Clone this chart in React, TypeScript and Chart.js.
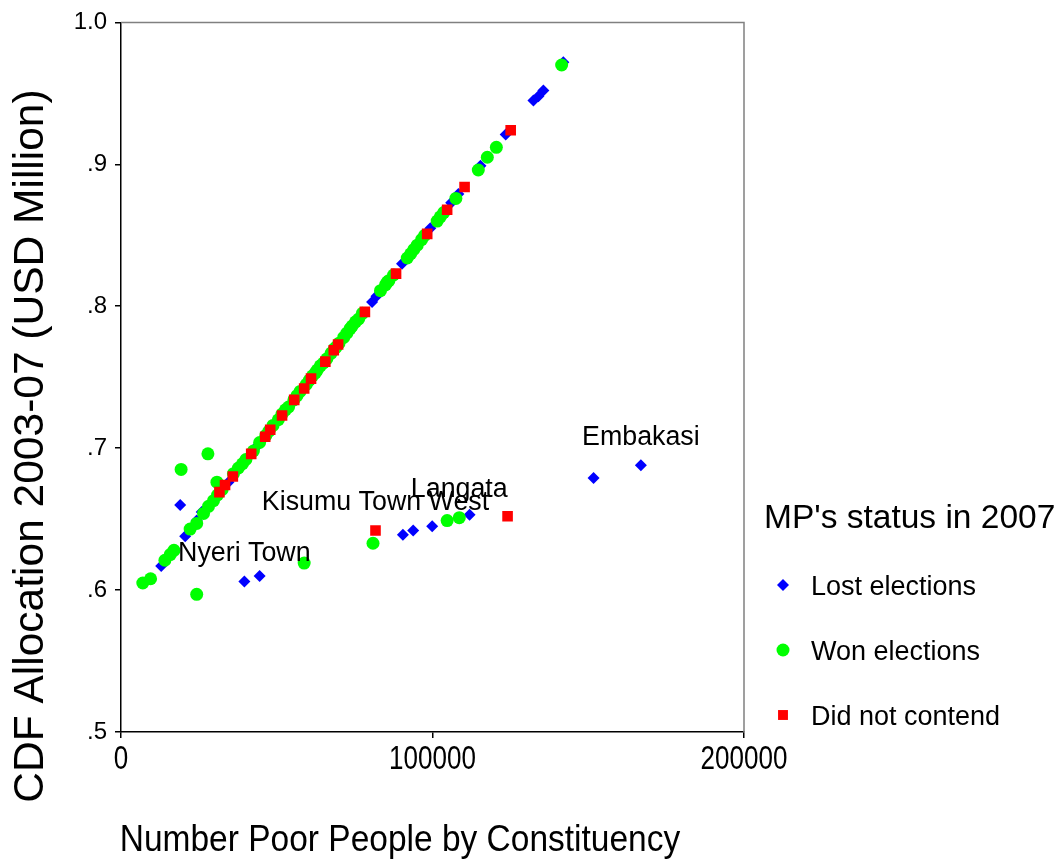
import { useEffect, useRef } from 'react';
import { Chart, registerables } from 'chart.js';

Chart.register(...registerables);

const FONT = "'Liberation Sans', Arial, sans-serif";

const xTickValues = [0, 100000, 200000];
const xTickLabels = ['0', '100000', '200000'];
const yTickValues = [0.5, 0.6, 0.7, 0.8, 0.9, 1.0];
const yTickLabels = ['.5', '.6', '.7', '.8', '.9', '1.0'];

const xTitle = 'Number Poor People by Constituency';
const yTitle = 'CDF Allocation 2003-07 (USD Million)';
const legendTitle = "MP's status in 2007";

const seriesNames = ['Lost elections', 'Won elections', 'Did not contend'];
const seriesColors = ['#0000ff', '#00ff00', '#ff0000'];
const seriesShapes = ['rectRot', 'circle', 'rect'];

// Lost elections
const lostX = [12900, 20600, 24300, 25900, 30000, 34500, 38500, 43000, 50000, 54500, 57000, 63500, 67000, 73000, 80600, 82000, 86500, 90200, 92500, 96500, 99300, 106000, 108300, 115400, 123500, 132400, 134000, 135600, 142000, 19000, 39600, 44500, 90500, 93800, 99900, 111900, 151700, 166900];
const lostY = [0.617, 0.638, 0.649, 0.655, 0.664, 0.676, 0.687, 0.700, 0.719, 0.731, 0.738, 0.756, 0.766, 0.782, 0.803, 0.807, 0.819, 0.830, 0.836, 0.847, 0.855, 0.873, 0.879, 0.899, 0.921, 0.945, 0.948, 0.952, 0.972, 0.660, 0.606, 0.610, 0.639, 0.642, 0.645, 0.653, 0.679, 0.688];

// Won elections
const wonX = [7000, 9500, 14100, 15800, 22200, 24300, 26500, 28100, 29700, 31000, 36100, 37700, 40100, 44500, 46500, 48800, 51700, 53800, 55500, 57500, 59500, 60500, 62400, 64000, 66100, 68500, 70000, 71500, 72500, 74200, 75300, 76300, 77500, 83300, 84900, 86000, 87500, 91900, 93000, 94000, 95100, 96500, 101500, 103600, 107500, 114700, 117600, 120500, 141460, 19300, 27900, 30800, 24300, 58800, 80900, 104700, 108600, 17000, 32500, 39000, 42500, 47500, 50500, 52800, 56500, 61500, 63000, 65000, 67500, 69000, 73500, 85500, 97500, 102500];
const wonY = [0.605, 0.608, 0.621, 0.625, 0.643, 0.647, 0.654, 0.659, 0.663, 0.667, 0.682, 0.686, 0.692, 0.704, 0.709, 0.716, 0.724, 0.729, 0.734, 0.740, 0.745, 0.748, 0.753, 0.758, 0.763, 0.770, 0.774, 0.778, 0.781, 0.786, 0.789, 0.791, 0.795, 0.811, 0.815, 0.818, 0.822, 0.834, 0.837, 0.840, 0.843, 0.847, 0.860, 0.866, 0.876, 0.896, 0.905, 0.912, 0.970, 0.685, 0.696, 0.676, 0.597, 0.619, 0.633, 0.649, 0.651, 0.628, 0.671, 0.689, 0.698, 0.712, 0.720, 0.727, 0.737, 0.751, 0.755, 0.760, 0.767, 0.771, 0.784, 0.817, 0.850, 0.863];

// Did not contend
const noContestX = [31600, 33400, 35900, 41800, 46300, 47900, 51700, 55600, 58800, 61000, 65600, 68300, 69700, 78300, 88300, 98300, 104700, 110300, 125100, 81700, 124100];
const noContestY = [0.669, 0.674, 0.680, 0.696, 0.708, 0.713, 0.723, 0.734, 0.742, 0.749, 0.761, 0.769, 0.773, 0.796, 0.823, 0.851, 0.868, 0.884, 0.924, 0.642, 0.652];

// Labelled constituencies: series index and point index
const pointLabelNames = ['Nyeri Town', 'Kisumu Town West', 'Langata', 'Embakasi'];
const pointLabelSeries = [0, 2, 1, 0];
const pointLabelIndex = [30, 19, 56, 37];

const seriesX = [lostX, wonX, noContestX];
const seriesY = [lostY, wonY, noContestY];

function drawText(ctx: CanvasRenderingContext2D, s: string, x: number, y: number, size: number, align: CanvasTextAlign, rot = 0, sy = 1) {
  ctx.save();
  ctx.translate(x, y);
  if (rot) ctx.rotate(rot);
  if (sy !== 1) ctx.scale(1, sy);
  ctx.font = `${size}px ${FONT}`;
  ctx.fillStyle = '#000';
  ctx.textAlign = align;
  ctx.textBaseline = 'middle';
  ctx.fillText(s, 0, 0);
  ctx.restore();
}

function drawMarker(ctx: CanvasRenderingContext2D, shape: string, color: string, x: number, y: number, r: number) {
  ctx.save();
  ctx.fillStyle = color;
  ctx.beginPath();
  if (shape === 'circle') {
    ctx.arc(x, y, r, 0, Math.PI * 2);
  } else if (shape === 'rectRot') {
    ctx.moveTo(x - r, y);
    ctx.lineTo(x, y - r);
    ctx.lineTo(x + r, y);
    ctx.lineTo(x, y + r);
    ctx.closePath();
  } else {
    const s = r * Math.SQRT1_2;
    ctx.rect(x - s, y - s, 2 * s, 2 * s);
  }
  ctx.fill();
  ctx.restore();
}

const decorPlugin = {
  id: 'decor',
  afterDraw(chart: any) {
    const ctx: CanvasRenderingContext2D = chart.ctx;
    const a = chart.chartArea;
    // top and right frame
    ctx.save();
    ctx.strokeStyle = '#808080';
    ctx.lineWidth = 1.5;
    ctx.beginPath();
    ctx.moveTo(a.left, a.top);
    ctx.lineTo(a.right, a.top);
    ctx.lineTo(a.right, a.bottom);
    ctx.stroke();
    ctx.restore();

    // x tick labels (tall, condensed look of the original)
    const xs = chart.scales.x;
    xTickValues.forEach((v, i) => {
      drawText(ctx, xTickLabels[i], xs.getPixelForValue(v), 760, 26, 'center', 0, 1.25);
    });

    // axis titles
    drawText(ctx, xTitle, 400, 841, 33.5, 'center', 0, 1.12);
    drawText(ctx, yTitle, 31, 446, 42.5, 'center', -Math.PI / 2);

    // point labels
    pointLabelNames.forEach((name, i) => {
      const meta = chart.getDatasetMeta(pointLabelSeries[i]);
      const el = meta.data[pointLabelIndex[i]];
      if (el) drawText(ctx, name, el.x, el.y - 28, 26.8, 'center');
    });

    // legend
    drawText(ctx, legendTitle, 764, 519, 33.5, 'left');
    const rowY = [585, 650, 715];
    const radii = [6, 6.5, 7];
    seriesNames.forEach((name, i) => {
      drawMarker(ctx, seriesShapes[i], seriesColors[i], 783, rowY[i], radii[i]);
      drawText(ctx, name, 811, rowY[i] + 3, 27, 'left');
    });
  },
};

export default function App() {
  const ref = useRef<HTMLCanvasElement | null>(null);
  useEffect(() => {
    if (!ref.current) return;
    const radii = [6, 6.5, 7.5];
    const orders = [3, 2, 1];
    const chart = new Chart(ref.current, {
      type: 'scatter',
      data: {
        datasets: seriesNames.map((name, i) => ({
          label: name,
          data: seriesX[i].map((x, j) => ({ x, y: seriesY[i][j] })),
          backgroundColor: seriesColors[i],
          borderColor: seriesColors[i],
          borderWidth: 0,
          pointStyle: seriesShapes[i] as any,
          pointRadius: radii[i],
          pointHoverRadius: radii[i],
          order: orders[i],
        })),
      },
      options: {
        animation: false,
        responsive: false,
        events: [],
        layout: { padding: { left: 0, top: 22, right: 320, bottom: 0 } },
        plugins: { legend: { display: false }, tooltip: { enabled: false }, title: { display: false } },
        scales: {
          x: {
            type: 'linear',
            min: 0,
            max: 200000,
            afterBuildTicks: (s: any) => { s.ticks = xTickValues.map((v) => ({ value: v })); },
            afterFit: (s: any) => { s.height = 129; },
            ticks: {
              display: false,
              callback: (_v: any, i: number) => xTickLabels[i],
              autoSkip: false,
            },
            grid: { display: true, drawOnChartArea: false, drawTicks: true, tickLength: 6, color: '#000', lineWidth: 1.5 },
            border: { display: true, color: '#000', width: 1.5 },
          },
          y: {
            type: 'linear',
            min: 0.5,
            max: 1.0,
            afterBuildTicks: (s: any) => { s.ticks = yTickValues.map((v) => ({ value: v })); },
            afterFit: (s: any) => { s.width = 121; },
            ticks: {
              callback: (_v: any, i: number) => yTickLabels[i],
              font: { family: FONT, size: 24 },
              color: '#000',
              padding: 8,
              autoSkip: false,
            },
            grid: { display: true, drawOnChartArea: false, drawTicks: true, tickLength: 6, color: '#000', lineWidth: 1.5 },
            border: { display: true, color: '#000', width: 1.5 },
          },
        },
      },
      plugins: [decorPlugin],
    });
    return () => chart.destroy();
  }, []);
  return (
    <div style={{ position: 'absolute', left: 0, top: 0, width: 1064, height: 861, background: '#fff' }}>
      <canvas ref={ref} width={1064} height={861} style={{ display: 'block' }} />
    </div>
  );
}
